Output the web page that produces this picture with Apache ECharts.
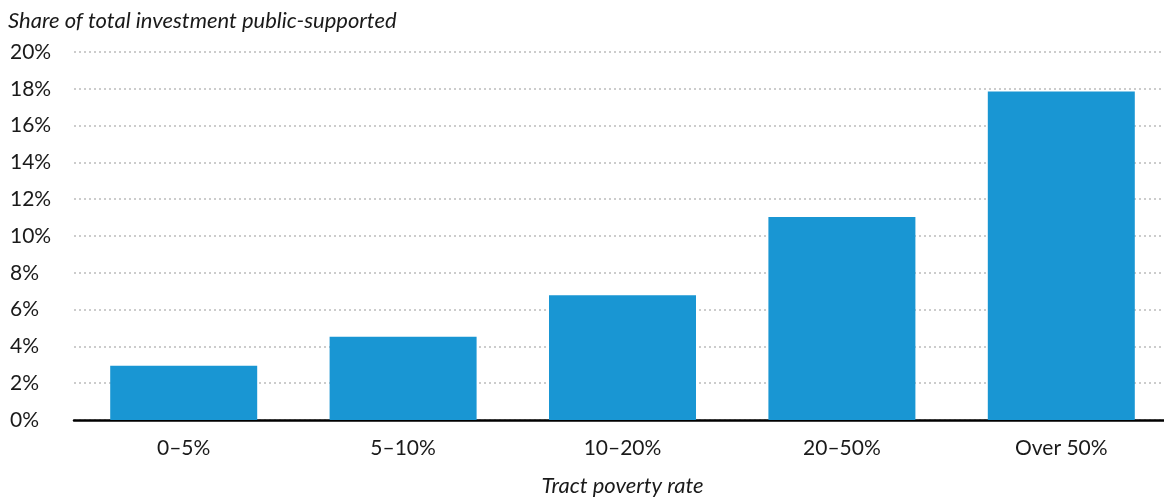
<!DOCTYPE html>
<html>
<head>
<meta charset="utf-8">
<script src="https://cdn.jsdelivr.net/npm/echarts@6/dist/echarts.min.js"></script>
<style>
  html, body { margin: 0; padding: 0; background: #fff; }
  #chart { width: 1164px; height: 502px; }
</style>
</head>
<body>
<div id="chart"></div>
<script>
// Poverty-rate bands of census tracts
const categories = ['0\u20135%', '5\u201310%', '10\u201320%', '20\u201350%', 'Over 50%'];
// Share of total investment that is public-supported (%)
const shareValues = [2.95, 4.53, 6.78, 11.03, 17.85];
// Y axis range and step (%)
const yMin = 0;
const yMax = 20;
const yStep = 2;

const FONT = 'Lato, "Noto Sans", sans-serif';

const chart = echarts.init(document.getElementById('chart'), null, { renderer: 'canvas' });
chart.setOption({
  animation: false,
  textStyle: { fontFamily: FONT },
  title: {
    text: 'Share of total investment public-supported',
    left: 3,
    top: 5,
    textStyle: { fontFamily: FONT, fontStyle: 'italic', fontWeight: 'normal', fontSize: 22, color: '#1a1a1a' }
  },
  grid: { left: 74, top: 52, right: -7, bottom: 82, outerBoundsMode: 'none', containLabel: false },
  xAxis: {
    type: 'category',
    data: categories,
    name: 'Tract poverty rate',
    nameLocation: 'middle',
    nameGap: 55,
    nameTextStyle: { fontFamily: FONT, fontStyle: 'italic', fontSize: 22, color: '#1a1a1a' },
    axisLine: { lineStyle: { color: '#000', width: 2.5 } },
    axisTick: { show: false },
    axisLabel: { fontFamily: FONT, fontSize: 21, color: '#1a1a1a', margin: 18 }
  },
  yAxis: {
    type: 'value',
    min: yMin,
    max: yMax,
    interval: yStep,
    axisLine: { show: false },
    axisTick: { show: false },
    axisLabel: {
      fontFamily: FONT, fontSize: 21, color: '#1a1a1a',
      align: 'left', margin: 64,
      formatter: v => v + '%'
    },
    splitLine: { lineStyle: { color: '#cccccc', type: [2, 3], width: 2 } }
  },
  series: [{
    type: 'bar',
    data: shareValues,
    barWidth: '67%',
    itemStyle: { color: '#1996d3' }
  }]
});
</script>
</body>
</html>
